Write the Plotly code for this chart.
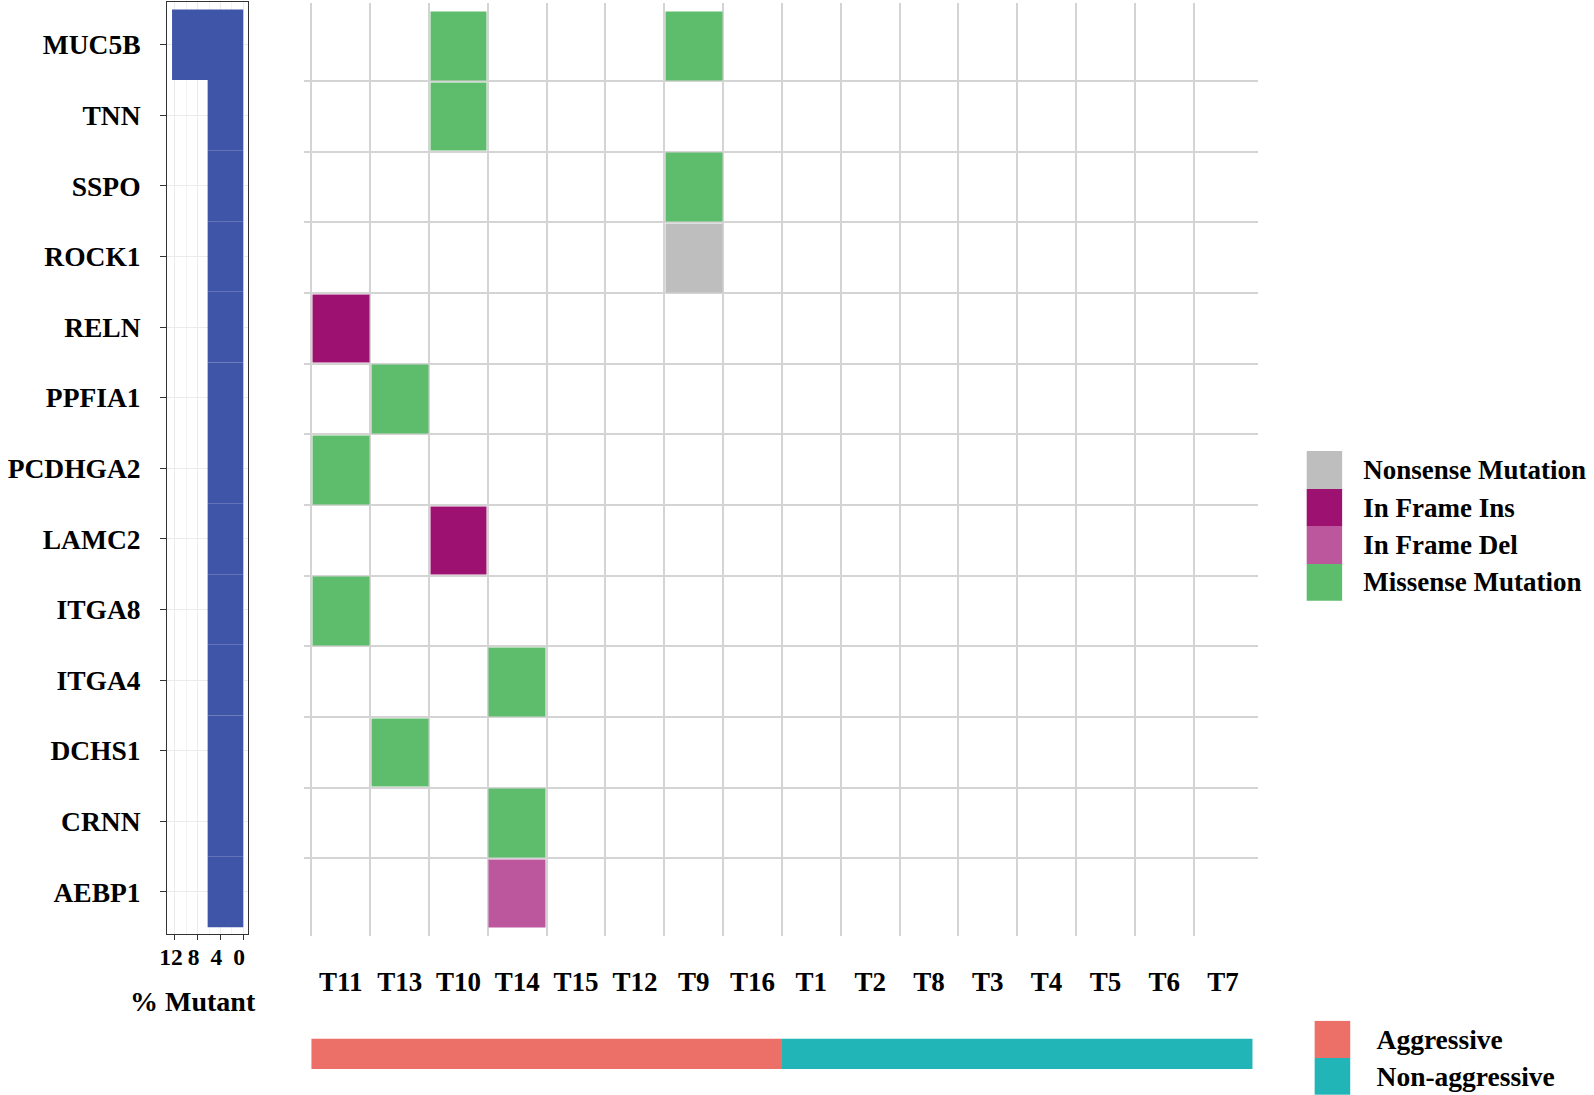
import plotly.graph_objects as go

# ---------------- data ----------------
genes = ["MUC5B", "TNN", "SSPO", "ROCK1", "RELN", "PPFIA1", "PCDHGA2",
         "LAMC2", "ITGA8", "ITGA4", "DCHS1", "CRNN", "AEBP1"]
pct_mutant = [12.5, 6.25, 6.25, 6.25, 6.25, 6.25, 6.25, 6.25, 6.25, 6.25, 6.25, 6.25, 6.25]
samples = ["T11", "T13", "T10", "T14", "T15", "T12", "T9", "T16",
           "T1", "T2", "T8", "T3", "T4", "T5", "T6", "T7"]
groups = ["Aggressive"] * 8 + ["Non-aggressive"] * 8

mut_types = ["Nonsense Mutation", "In Frame Ins", "In Frame Del", "Missense Mutation"]
mut_colors = ["#BEBEBE", "#9D1271", "#BC579E", "#5EBD6C"]
group_names = ["Aggressive", "Non-aggressive"]
group_colors = ["#EC7068", "#21B5B7"]

mut_gene = ["MUC5B", "MUC5B", "TNN", "SSPO", "ROCK1", "RELN", "PPFIA1",
            "PCDHGA2", "LAMC2", "ITGA8", "ITGA4", "DCHS1", "CRNN", "AEBP1"]
mut_sample = ["T10", "T9", "T10", "T9", "T9", "T11", "T13",
              "T11", "T10", "T11", "T14", "T13", "T14", "T14"]
mut_type = ["Missense Mutation", "Missense Mutation", "Missense Mutation", "Missense Mutation",
            "Nonsense Mutation", "In Frame Ins", "Missense Mutation", "Missense Mutation",
            "In Frame Ins", "Missense Mutation", "Missense Mutation", "Missense Mutation",
            "Missense Mutation", "In Frame Del"]

# ---------------- helpers ----------------
W, H = 1594, 1095
FONT = "Liberation Serif"


def px_x(a, b):
    return [a / W, b / W]


def px_y(top, bottom):
    return [1 - bottom / H, 1 - top / H]


def discrete_scale(colors):
    n = len(colors)
    cs = []
    for i, c in enumerate(colors):
        cs.append([i / n, c])
        cs.append([(i + 1) / n, c])
    return cs


z = [[None] * len(samples) for _ in genes]
for g, s, t in zip(mut_gene, mut_sample, mut_type):
    z[genes.index(g)][samples.index(s)] = mut_types.index(t)

fig = go.Figure()

# left bar panel
fig.add_trace(go.Bar(
    x=pct_mutant, y=list(range(len(genes))), orientation="h", width=1.0,
    marker=dict(color="#3F55A7", line=dict(width=0)),
    xaxis="x", yaxis="y", showlegend=False, hoverinfo="skip"))

# oncoprint heatmap
fig.add_trace(go.Heatmap(
    z=z, x=list(range(len(samples))), y=list(range(len(genes))),
    colorscale=discrete_scale(mut_colors), zmin=-0.5, zmax=len(mut_types) - 0.5,
    showscale=False, xgap=2, ygap=2, xaxis="x2", yaxis="y2", hoverinfo="skip"))

# group annotation bar
fig.add_trace(go.Heatmap(
    z=[[group_names.index(g) for g in groups]], x=list(range(len(samples))), y=[0],
    colorscale=discrete_scale(group_colors), zmin=-0.5, zmax=1.5,
    showscale=False, xaxis="x4", yaxis="y4", hoverinfo="skip"))

# mutation legend
fig.add_trace(go.Heatmap(
    z=[[i] for i in range(len(mut_types))], x=[0], y=list(range(len(mut_types))),
    colorscale=discrete_scale(mut_colors), zmin=-0.5, zmax=len(mut_types) - 0.5,
    showscale=False, xaxis="x3", yaxis="y3", hoverinfo="skip"))

# group legend
fig.add_trace(go.Heatmap(
    z=[[i] for i in range(len(group_names))], x=[0], y=list(range(len(group_names))),
    colorscale=discrete_scale(group_colors), zmin=-0.5, zmax=1.5,
    showscale=False, xaxis="x5", yaxis="y5", hoverinfo="skip"))

bold = lambda s: dict(family=FONT, size=s, color="black", weight="bold")

row_range = [12.6, -0.61]

fig.update_layout(
    width=W, height=H, margin=dict(l=0, r=0, t=0, b=0),
    paper_bgcolor="white", plot_bgcolor="white", showlegend=False,
    xaxis=dict(domain=px_x(160, 241), range=[13.35, -0.8], tickvals=[12, 8, 4, 0],
               ticks="outside", ticklen=5, tickcolor="#333333", tickfont=bold(23.5),
               ticklabelstandoff=-4, ticklabelshift=4,
               showline=True, mirror=True, linecolor="#333333", linewidth=1.3,
               showgrid=True, gridcolor="#EBEBEB", gridwidth=1, zeroline=False,
               minor=dict(tickvals=[10, 6, 2], showgrid=True, gridcolor="#F3F3F3", ticks=""),
               anchor="y", fixedrange=True),
    yaxis=dict(domain=px_y(1.7, 934.3), range=row_range, tickvals=list(range(len(genes))),
               ticktext=genes, ticks="outside", ticklen=6, tickcolor="#333333",
               tickfont=bold(27.5), ticklabelstandoff=14,
               showline=True, mirror=True, linecolor="#333333", linewidth=1.3,
               showgrid=True, gridcolor="#EBEBEB", gridwidth=1, zeroline=False,
               anchor="x", fixedrange=True),
    xaxis2=dict(domain=px_x(297, 1256), range=[-0.635, 15.59],
                tickvals=list(range(len(samples))), ticktext=samples, ticks="",
                tickfont=bold(27), ticklabelstandoff=27, showgrid=False, zeroline=False,
                showline=False,
                minor=dict(tickvals=[k - 0.5 for k in range(len(samples))], showgrid=True,
                           gridcolor="#D4D4D4", gridwidth=1.6, ticks=""),
                anchor="y2", fixedrange=True),
    yaxis2=dict(domain=px_y(2.7, 936), range=row_range, showticklabels=False, ticks="",
                showgrid=False, zeroline=False, showline=False,
                minor=dict(tickvals=[k + 0.5 for k in range(len(genes) - 1)], showgrid=True,
                           gridcolor="#D4D4D4", gridwidth=1.6, ticks=""),
                anchor="x2", fixedrange=True),
    xaxis4=dict(domain=px_x(297, 1256), range=[-0.635, 15.59], visible=False,
                anchor="y4", fixedrange=True),
    yaxis4=dict(domain=px_y(1038.5, 1069), range=[-0.5, 0.5], visible=False,
                anchor="x4", fixedrange=True),
    xaxis3=dict(domain=px_x(1305, 1341), range=[-0.5, 0.5], visible=False,
                anchor="y3", fixedrange=True),
    yaxis3=dict(domain=px_y(451, 600.7), range=[3.5, -0.5], side="right",
                tickvals=list(range(len(mut_types))), ticktext=mut_types, ticks="",
                tickfont=bold(27), ticklabelstandoff=20, showgrid=False, zeroline=False,
                showline=False, anchor="x3", fixedrange=True),
    xaxis5=dict(domain=px_x(1313, 1349.3), range=[-0.5, 0.5], visible=False,
                anchor="y5", fixedrange=True),
    yaxis5=dict(domain=px_y(1020.7, 1095), range=[1.5, -0.5], side="right",
                tickvals=[0, 1], ticktext=group_names, ticks="",
                tickfont=bold(27.5), ticklabelstandoff=25, showgrid=False, zeroline=False,
                showline=False, anchor="x5", fixedrange=True),
    annotations=[dict(text="% Mutant", x=185.5 / W, y=1 - 1001 / H, xref="paper",
                      yref="paper", showarrow=False, xanchor="center", yanchor="middle",
                      font=bold(28))],
)

fig.write_html("out.html", config={"displayModeBar": False},
               post_script="document.body.style.margin='0px';"
                           "document.body.style.overflow='hidden';")
